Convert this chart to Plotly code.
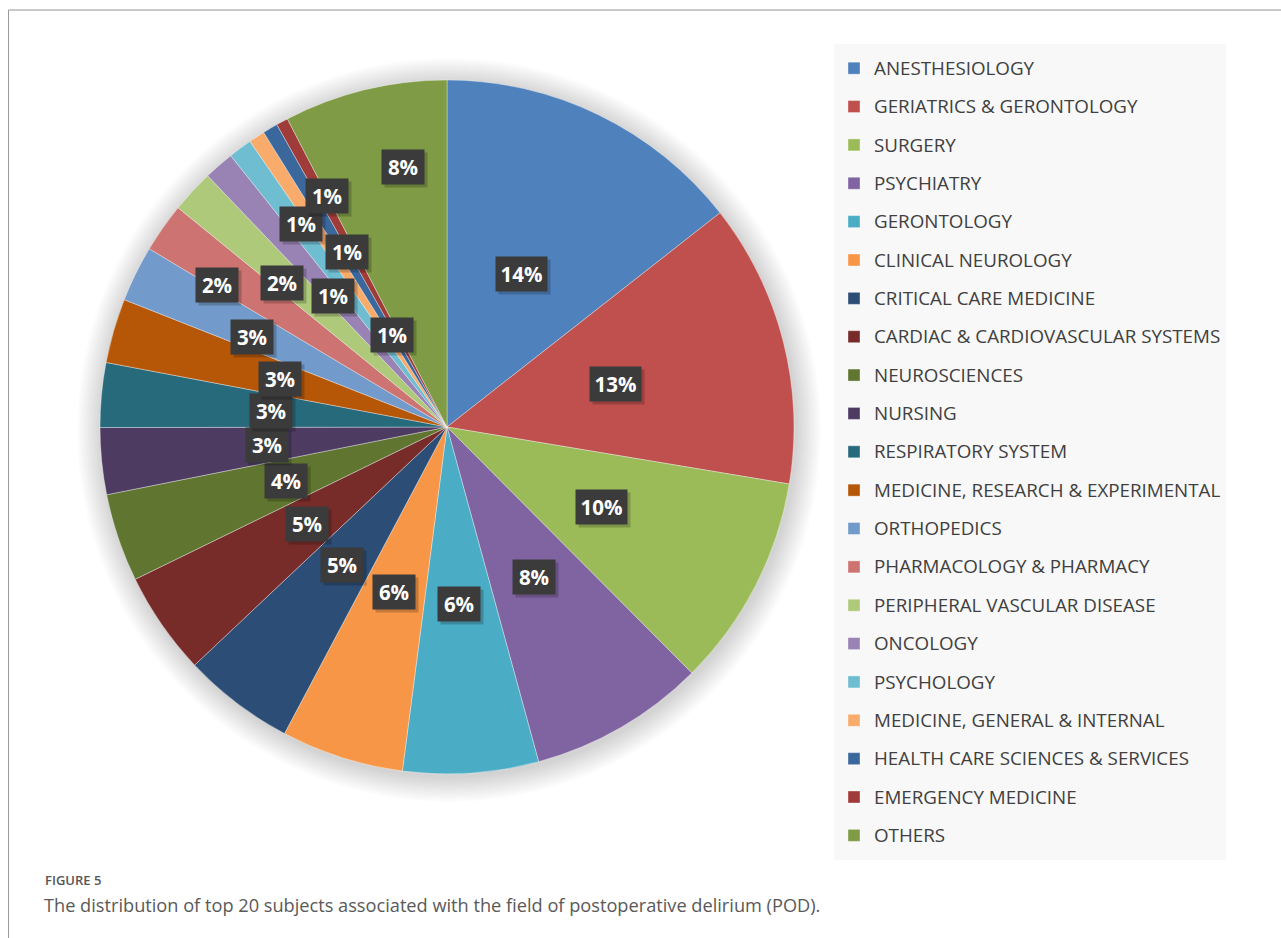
import math
import plotly.graph_objects as go

# Top 20 Web of Science subject categories in POD research (+ the rest)
subjects = [
    "ANESTHESIOLOGY",
    "GERIATRICS & GERONTOLOGY",
    "SURGERY",
    "PSYCHIATRY",
    "GERONTOLOGY",
    "CLINICAL NEUROLOGY",
    "CRITICAL CARE MEDICINE",
    "CARDIAC & CARDIOVASCULAR SYSTEMS",
    "NEUROSCIENCES",
    "NURSING",
    "RESPIRATORY SYSTEM",
    "MEDICINE, RESEARCH & EXPERIMENTAL",
    "ORTHOPEDICS",
    "PHARMACOLOGY & PHARMACY",
    "PERIPHERAL VASCULAR DISEASE",
    "ONCOLOGY",
    "PSYCHOLOGY",
    "MEDICINE, GENERAL & INTERNAL",
    "HEALTH CARE SCIENCES & SERVICES",
    "EMERGENCY MEDICINE",
    "OTHERS",
]

# share of publications (%)
shares = [14.4, 13.2, 9.9, 8.2, 6.3, 5.7, 5.2, 4.8, 4.1, 3.1, 3.0, 3.0,
          2.6, 2.3, 2.0, 1.4, 1.1, 0.75, 0.7, 0.55, 7.6]

slice_colors = [
    "#4F81BD", "#C0504D", "#9BBB59", "#8064A2", "#4BACC6", "#F79646",
    "#2C4D75", "#772C2A", "#5F7530", "#4D3B62", "#276A7C", "#B65708",
    "#729ACA", "#CD7371", "#AFC97A", "#9983B5", "#6FBDD1", "#F9AB6B",
    "#3A679C", "#9F3B38", "#7F9B45",
]

# ---- page geometry (pixels) ----
W, H = 1281, 938
CX, CY, R = 447, 427, 347

# callout placement: fraction of radius and angular nudge (deg) per slice
callout_radius = [0.49, 0.50, 0.50, 0.50, 0.51, 0.50, 0.50, 0.49, 0.49, 0.52,
                  0.51, 0.50, 0.62, 0.78, 0.63, 0.50, 0.72, 0.58, 0.31, 0.75, 0.76]
callout_nudge = [0, 0, 0, 0, 0, 0, 0, 0, 0, 0, 0, 0, -1.4, -3.3, -1.7, 0, 0.8,
                 3.4, -0.4, 1.0, 4.1]

total = sum(shares)
pct_text = [f"{round(v / total * 100)}%" for v in shares]

fig = go.Figure()

legend_names = [
    f'<span style="font-size:18.8px; baseline-shift:4px">{s}</span>'
    for s in subjects
]

fig.add_trace(go.Pie(
    labels=legend_names,
    values=shares,
    sort=False,
    direction="clockwise",
    rotation=0,
    marker=dict(colors=slice_colors,
                line=dict(color="rgba(255,255,255,0.45)", width=0.8)),
    textinfo="none",
    hoverinfo="skip",
    domain=dict(x=[(CX - R) / W, (CX + R) / W],
                y=[1 - (CY + R) / H, 1 - (CY - R) / H]),
    showlegend=True,
))

# soft drop shadow around the pie
shapes = []
n_rings = 22
for k in range(n_rings, 0, -1):
    rr = R + k * 1.15
    shapes.append(dict(
        type="circle", xref="paper", yref="paper",
        xsizemode="pixel", ysizemode="pixel",
        xanchor=(CX + 2) / W, yanchor=1 - (CY + 3) / H,
        x0=-rr, x1=rr, y0=-rr, y1=rr,
        fillcolor="rgba(0,0,0,0.0062)", line=dict(width=0), layer="below",
    ))

# page frame lines
shapes.append(dict(type="line", xref="paper", yref="paper",
                   x0=8.5 / W, x1=1, y0=1 - 10 / H, y1=1 - 10 / H,
                   line=dict(color="#c9c9c9", width=2)))
shapes.append(dict(type="line", xref="paper", yref="paper",
                   x0=8.5 / W, x1=8.5 / W, y0=0, y1=1 - 10 / H,
                   line=dict(color="#9a9a9a", width=1)))

# percentage callouts (dark boxes with a small offset shadow)
annotations = []
start = 0.0
for v, txt, rf, nudge in zip(shares, pct_text, callout_radius, callout_nudge):
    frac = v / total
    mid = (start + frac / 2) * 360 + nudge
    start += frac
    th = math.radians(mid)
    px = CX + rf * R * math.sin(th)
    py = CY - rf * R * math.cos(th)
    box_w = 34 if len(txt) == 2 else 43
    base = dict(xref="paper", yref="paper", x=px / W, y=1 - py / H,
                xanchor="center", yanchor="middle", showarrow=False,
                borderpad=4, width=box_w, height=26)
    annotations.append({**base, "xshift": 3, "yshift": -3, "text": " ",
                        "bgcolor": "rgba(0,0,0,0.2)",
                        "font": dict(family="Open Sans", size=20.5)})
    annotations.append({**base, "text": f"<b>{txt}</b>", "bgcolor": "#3b3b3b",
                        "font": dict(family="Open Sans", size=20.5, color="white")})

# figure caption
annotations.append(dict(xref="paper", yref="paper", x=43 / W, y=1 - 880 / H,
                        xanchor="left", yanchor="middle", showarrow=False,
                        text="FIGURE 5",
                        font=dict(family="Open Sans", size=13, color="#555555",
                                  weight=600)))
annotations.append(dict(xref="paper", yref="paper", x=42 / W, y=1 - 905 / H,
                        xanchor="left", yanchor="middle", showarrow=False,
                        text="The distribution of top 20 subjects associated with the field of postoperative delirium (POD).",
                        font=dict(family="Open Sans", size=18.2, color="#595959")))

fig.update_layout(
    width=W, height=H,
    margin=dict(l=0, r=0, t=0, b=0),
    paper_bgcolor="white",
    plot_bgcolor="white",
    shapes=shapes,
    annotations=annotations,
    legend=dict(
        x=834 / W, y=1 - 44 / H, xanchor="left", yanchor="top",
        bgcolor="#f8f8f8", borderwidth=0,
        font=dict(family="Open Sans", size=27.2, color="#404040"),
        traceorder="normal", itemclick=False, itemdoubleclick=False,
    ),
)

fig.write_html("out.html")
